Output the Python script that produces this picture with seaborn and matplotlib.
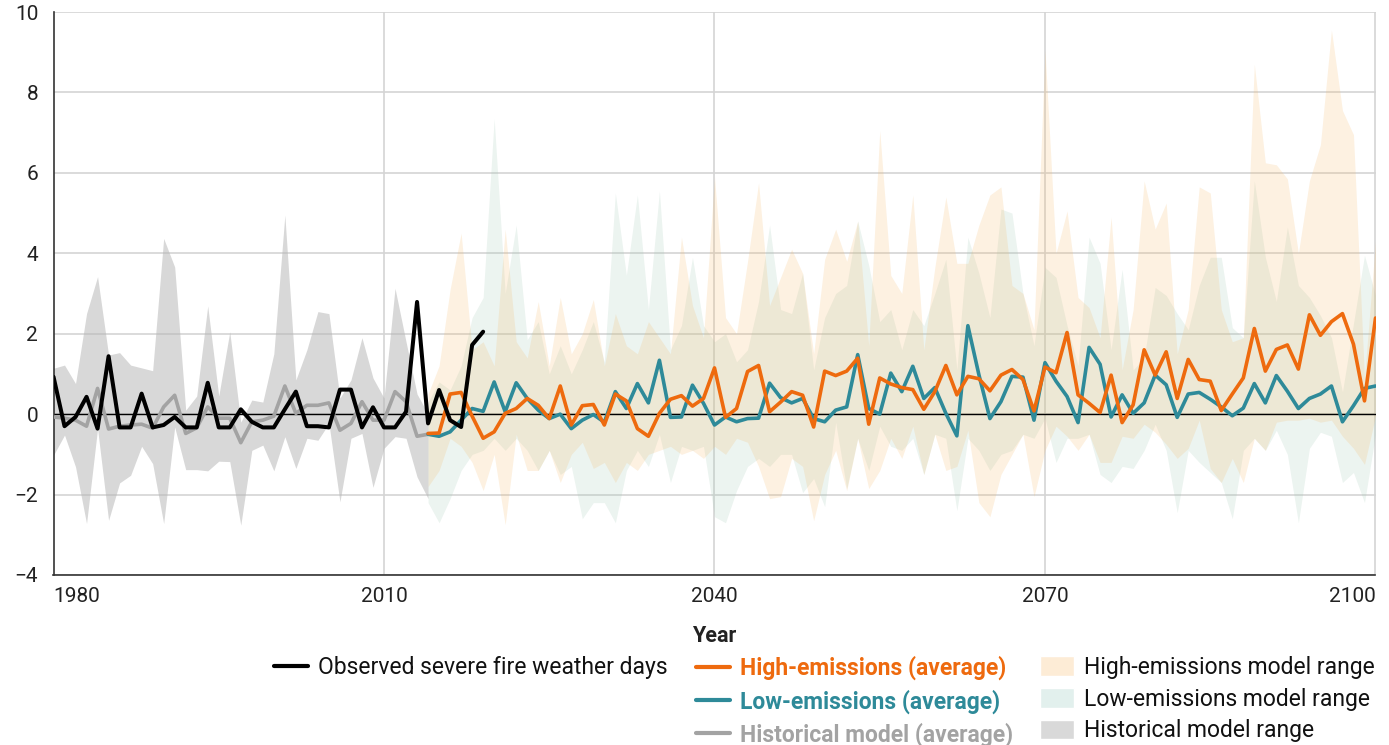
import matplotlib
matplotlib.use("Agg")
import matplotlib.pyplot as plt
import pandas as pd
import seaborn as sns
from matplotlib.lines import Line2D
from matplotlib.patches import Patch

# Observed severe fire weather days (anomaly), 1980-2019
obs_years = list(range(1980, 2020))
observed = [0.93, -0.30, -0.07, 0.43, -0.36, 1.44, -0.33, -0.33, 0.51, -0.33,
            -0.27, -0.07, -0.33, -0.33, 0.78, -0.33, -0.33, 0.12, -0.19, -0.33,
            -0.33, 0.12, 0.56, -0.30, -0.30, -0.33, 0.61, 0.61, -0.33, 0.17,
            -0.33, -0.33, 0.06, 2.79, -0.23, 0.60, -0.15, -0.32, 1.72, 2.05]

# Historical model, 1980-2014
hist_years = list(range(1980, 2015))
hist_avg = [-0.07, -0.10, -0.15, -0.30, 0.64, -0.37, -0.30, -0.27, -0.25, -0.35,
            0.18, 0.47, -0.48, -0.34, 0.18, -0.10, -0.10, -0.71, -0.19, -0.15,
            -0.05, 0.70, 0.02, 0.22, 0.22, 0.28, -0.40, -0.23, 0.31, -0.15,
            -0.15, 0.56, 0.31, -0.55, -0.50]
hist_upper = [1.14, 1.22, 0.76, 2.50, 3.42, 1.47, 1.53, 1.22, 1.15, 1.08,
              4.37, 3.66, 0.10, 0.45, 2.69, 0.45, 2.05, -0.20, 0.35, 0.30,
              1.50, 4.95, 0.85, 1.60, 2.55, 2.50, 0.40, 0.85, 1.90, 0.90,
              0.40, 3.13, 1.80, 0.50, 0.00]
hist_lower = [-1.02, -0.52, -1.31, -2.72, -0.36, -2.64, -1.71, -1.52, -0.80, -1.23,
              -2.72, -0.32, -1.38, -1.38, -1.41, -1.17, -1.18, -2.76, -0.90, -0.77,
              -1.41, -0.56, -1.35, -0.60, -0.65, -0.23, -2.18, -0.60, -0.48, -1.82,
              -0.85, -0.56, -0.60, -1.56, -2.10]

# Projections, 2014-2100
future_years = list(range(2014, 2101))
high_avg = [-0.48, -0.47, 0.50, 0.54, -0.05, -0.60, -0.44, 0.02, 0.14, 0.39,
            0.22, -0.11, 0.70, -0.27, 0.21, 0.24, -0.27, 0.50, 0.33, -0.36,
            -0.55, 0.02, 0.37, 0.46, 0.20, 0.39, 1.15, -0.08, 0.14, 1.06,
            1.21, 0.06, 0.30, 0.56, 0.47, -0.32, 1.07, 0.96, 1.07, 1.39,
            -0.25, 0.90, 0.75, 0.66, 0.61, 0.12, 0.56, 1.21, 0.48, 0.94,
            0.88, 0.58, 0.97, 1.11, 0.86, 0.08, 1.17, 1.03, 2.03, 0.48,
            0.27, 0.04, 0.97, -0.21, 0.23, 1.60, 0.97, 1.55, 0.39, 1.36,
            0.86, 0.82, 0.09, 0.50, 0.90, 2.13, 1.07, 1.61, 1.72, 1.12,
            2.47, 1.96, 2.30, 2.50, 1.74, 0.33, 2.39]
low_avg = [-0.50, -0.55, -0.44, -0.15, 0.14, 0.07, 0.80, 0.06, 0.78, 0.39,
           0.10, -0.11, 0.00, -0.36, -0.15, -0.01, -0.20, 0.56, 0.14, 0.76,
           0.28, 1.34, -0.08, -0.07, 0.72, 0.27, -0.27, -0.07, -0.19, -0.11,
           -0.10, 0.77, 0.41, 0.28, 0.39, -0.11, -0.19, 0.10, 0.18, 1.48,
           0.14, 0.00, 1.02, 0.56, 1.19, 0.39, 0.66, 0.02, -0.54, 2.20,
           0.98, -0.11, 0.31, 0.94, 0.92, -0.15, 1.28, 0.82, 0.44, -0.21,
           1.66, 1.24, -0.07, 0.48, 0.02, 0.28, 0.97, 0.73, -0.08, 0.50,
           0.54, 0.37, 0.18, -0.04, 0.15, 0.76, 0.28, 0.96, 0.57, 0.14,
           0.39, 0.50, 0.70, -0.19, 0.21, 0.64, 0.70]
high_upper = [0.5, 1.2, 3.1, 4.5, 1.6, 1.8, 1.2, 4.6, 1.8, 1.4,
              2.8, 1.2, 2.9, 1.5, 2.0, 2.85, 1.2, 2.5, 1.7, 1.5,
              2.3, 1.9, 1.5, 4.4, 2.7, 1.9, 5.9, 2.4, 2.0, 3.8,
              5.75, 2.7, 3.4, 4.1, 3.5, 1.5, 3.85, 4.6, 3.8, 4.8,
              1.7, 7.05, 3.45, 3.0, 5.45, 1.6, 3.65, 5.4, 3.75, 3.75,
              4.7, 5.45, 5.65, 3.2, 3.0, 2.1, 9.05, 4.0, 5.05, 2.9,
              2.65, 1.9, 4.9, 1.1, 2.6, 5.8, 4.6, 5.25, 1.5, 2.6,
              5.65, 5.5, 2.6, 1.8, 1.9, 8.7, 6.25, 6.2, 5.85, 4.0,
              5.8, 6.7, 9.55, 7.55, 6.95, 0.9, 4.3]
high_lower = [-1.8, -1.4, -0.6, -0.8, -1.2, -1.9, -1.0, -2.75, -0.5, -1.4,
              -1.4, -0.9, -1.7, -1.0, -0.7, -1.35, -1.2, -1.7, -1.2, -1.4,
              -1.0, -0.9, -0.8, -1.0, -0.9, -1.1, -0.8, -1.0, -0.6, -0.7,
              -1.3, -2.1, -2.05, -1.1, -1.3, -2.65, -1.5, -0.9, -1.9, -0.6,
              -1.85, -1.4, -0.6, -1.1, -0.3, -1.5, -0.5, -1.4, -1.3, -0.4,
              -2.2, -2.55, -1.5, -1.0, -0.5, -2.05, -0.9, -0.3, -0.55, -0.9,
              -0.5, -1.2, -1.2, -0.55, -0.6, -0.25, -0.45, -0.75, -1.1, -0.85,
              -0.15, -1.35, -1.7, -1.1, -1.7, -0.6, -0.9, -0.2, -0.15, -0.15,
              -0.1, -0.2, -0.15, -0.55, -0.85, -1.25, -0.05]
low_upper = [0.3, 0.8, 0.6, 1.2, 2.4, 2.9, 7.35, 3.0, 4.7, 1.85,
             2.3, 1.0, 1.7, 1.0, 1.6, 2.3, 1.3, 5.5, 3.45, 5.45,
             2.6, 5.55, 1.6, 2.2, 3.9, 2.2, 1.8, 2.0, 1.3, 1.6,
             2.8, 4.7, 2.6, 2.5, 3.5, 1.1, 2.4, 3.0, 3.2, 4.8,
             3.7, 2.3, 2.6, 1.6, 2.6, 2.2, 3.0, 3.85, 1.1, 4.4,
             3.5, 2.4, 5.1, 5.0, 3.0, 1.7, 3.65, 3.4, 2.2, 1.2,
             4.4, 3.75, 1.6, 3.6, 1.1, 1.4, 3.15, 2.95, 2.5, 2.1,
             3.2, 3.9, 3.9, 2.15, 1.9, 5.8, 3.9, 2.8, 4.65, 3.2,
             2.9, 2.45, 1.9, 0.55, 2.25, 3.95, 2.95]
low_lower = [-2.2, -2.7, -2.1, -1.4, -1.0, -0.9, -0.6, -0.9, -0.6, -0.9,
             -1.4, -0.9, -1.5, -1.3, -2.6, -2.2, -2.2, -2.7, -1.4, -0.9,
             -1.3, -0.5, -1.7, -0.8, -0.9, -0.8, -2.55, -2.7, -1.9, -1.3,
             -1.1, -1.3, -1.0, -1.0, -1.95, -1.6, -2.3, -0.2, -1.85, -0.6,
             -1.4, -0.3, -0.8, -0.9, -0.6, -1.5, -0.5, -0.6, -2.4, -0.6,
             -0.9, -1.4, -1.0, -0.9, -0.5, -0.6, -0.1, -1.2, -0.6, -0.6,
             -0.5, -1.5, -1.7, -1.3, -1.35, -0.9, -0.25, -0.9, -2.45, -0.9,
             -1.2, -1.45, -1.7, -2.6, -0.9, -0.6, -0.9, -0.4, -1.0, -2.7,
             -0.85, -0.45, -0.55, -1.7, -1.45, -2.2, -0.5]

x_ticks = [1980, 2010, 2040, 2070, 2100]
y_ticks = [-4, -2, 0, 2, 4, 6, 8, 10]

ORANGE = "#ee6a0e"
TEAL = "#2e8a99"
GREY = "#a3a3a3"

sns.set_theme(style="white")
plt.rcParams['font.family'] = ['Roboto', 'DejaVu Sans']

df_obs = pd.DataFrame({'year': obs_years, 'value': observed})
df_hist = pd.DataFrame({'year': hist_years, 'avg': hist_avg, 'lo': hist_lower, 'hi': hist_upper})
df_fut = pd.DataFrame({'year': future_years, 'high': high_avg, 'low': low_avg,
                       'high_lo': high_lower, 'high_hi': high_upper,
                       'low_lo': low_lower, 'low_hi': low_upper})

fig = plt.figure(figsize=(13.89, 7.45), dpi=100)
ax = fig.add_axes([53.5 / 1389, 1 - 575 / 745, 1322 / 1389, 563 / 745])

# model ranges
ax.fill_between(df_hist.year, df_hist.lo, df_hist.hi, color="#b8b8b8", alpha=0.55, lw=0, zorder=1)
ax.fill_between(df_fut.year, df_fut.low_lo, df_fut.low_hi, color=(160/255, 200/255, 180/255),
                alpha=0.2, lw=0, zorder=1)
ax.fill_between(df_fut.year, df_fut.high_lo, df_fut.high_hi, color=(245/255, 185/255, 105/255),
                alpha=0.2, lw=0, zorder=1)

ax.axhline(0, color='black', lw=1, zorder=2)

# averages and observations
sns.lineplot(data=df_hist, x='year', y='avg', ax=ax, color=GREY, lw=2.6, zorder=3)
sns.lineplot(data=df_fut, x='year', y='low', ax=ax, color=TEAL, lw=2.6, zorder=3)
sns.lineplot(data=df_fut, x='year', y='high', ax=ax, color=ORANGE, lw=2.6, zorder=4)
sns.lineplot(data=df_obs, x='year', y='value', ax=ax, color='black', lw=2.9, zorder=5)

ax.set_xlim(1980, 2100)
ax.set_ylim(-4, 10)
ax.set_xticks(x_ticks)
ax.set_yticks(y_ticks)
ax.grid(True, color='#d4d4d4', lw=1.2)
ax.set_axisbelow(True)
for s in ['top', 'right']:
    ax.spines[s].set_visible(False)
for s in ['left', 'bottom']:
    ax.spines[s].set_color('#333333')
    ax.spines[s].set_linewidth(1.2)
ax.tick_params(length=0, labelsize=15, colors='#222222')
ax.tick_params(axis='y', pad=11)
ax.tick_params(axis='x', pad=9)
xl = ax.get_xticklabels()
xl[0].set_ha('left')
xl[-1].set_ha('right')
ax.set_ylabel('')
ax.set_xlabel('Year', fontsize=15.5, fontweight='bold', color='#222222', labelpad=13)

# legend in three columns
leg_kw = dict(loc='upper left', frameon=False, fontsize=16.5, borderpad=0,
              handlelength=1.5, handletextpad=0.42, labelspacing=0.38, borderaxespad=0)
top = 1 - 656 / 745
h1 = [Line2D([0], [0], color='black', lw=3)]
leg1 = fig.legend(handles=h1, labels=['Observed severe fire weather days'],
                  bbox_to_anchor=(274 / 1389, top), **leg_kw)
h2 = [Line2D([0], [0], color=ORANGE, lw=3), Line2D([0], [0], color=TEAL, lw=3),
      Line2D([0], [0], color=GREY, lw=3)]
leg2 = fig.legend(handles=h2, labels=['High-emissions (average)', 'Low-emissions (average)',
                                      'Historical model (average)'],
                  bbox_to_anchor=(696 / 1389, top), **leg_kw)
for t, c in zip(leg2.get_texts(), [ORANGE, TEAL, GREY]):
    t.set_color(c)
    t.set_fontweight('bold')
h3 = [Patch(facecolor='#fdecd6'), Patch(facecolor='#e2f0ed'), Patch(facecolor='#d9d9d9')]
leg3 = fig.legend(handles=h3, labels=['High-emissions model range', 'Low-emissions model range',
                                      'Historical model range'],
                  bbox_to_anchor=(1040 / 1389, top), handleheight=0.95, **leg_kw)
for t in leg1.get_texts() + leg3.get_texts():
    t.set_color('#111111')

fig.savefig('out.png', dpi=100)
